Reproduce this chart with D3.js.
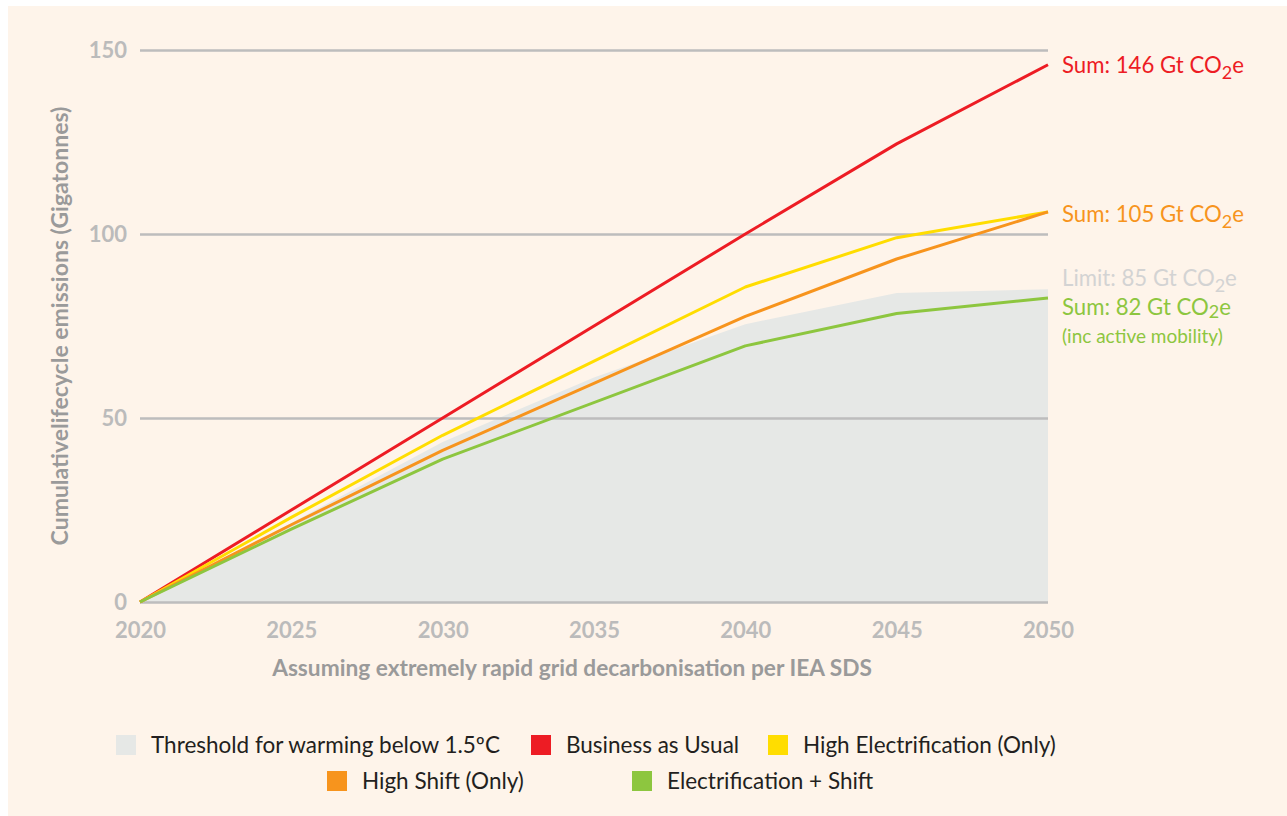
<!DOCTYPE html>
<html><head><meta charset="utf-8">
<script src="https://cdn.jsdelivr.net/npm/d3@7"></script>
<style>
html,body{margin:0;padding:0;background:#fff;}
svg{display:block;}
text{font-family:Lato,"Open Sans",sans-serif;}
</style></head>
<body>
<svg id="chart" width="1287" height="816"></svg>
<script>
// ---- data ----
const lineYears = [2020, 2025, 2030, 2040, 2045, 2050];
const thresholdYears = [2020, 2025, 2030, 2035, 2040, 2045, 2050];
const thresholdValues = [0, 21.5, 43.5, 61, 75.5, 84, 85];
const bauValues = [0, 25, 50, 100, 124.5, 146];
const highElecValues = [0, 23, 45.3, 85.6, 99, 106];
const highShiftValues = [0, 21, 41.2, 77.6, 93.2, 106];
const elecShiftValues = [0, 19.8, 38.8, 69.6, 78.4, 82.6];
const xTicks = [2020, 2025, 2030, 2035, 2040, 2045, 2050];
const yTicks = [0, 50, 100, 150];
const seriesNames = ["Business as Usual", "High Electrification (Only)", "High Shift (Only)", "Electrification + Shift"];
const seriesColors = ["#ed1c24", "#ffdd00", "#f7941d", "#8dc63f"];
const thresholdName = "Threshold for warming below 1.5ºC";
const thresholdColor = "#e6e8e6";

const svg = d3.select("#chart");
svg.append("rect").attr("x", 8).attr("y", 6).attr("width", 1279).attr("height", 810).attr("fill", "#fef4ea");

const x = d3.scaleLinear().domain([2020, 2050]).range([140, 1048]);
const y = d3.scaleLinear().domain([0, 150]).range([602, 50]);

// threshold area
const area = d3.area().x(d => x(d[0])).y0(y(0)).y1(d => y(d[1]));
svg.append("path").datum(thresholdYears.map((yr, i) => [yr, thresholdValues[i]]))
  .attr("d", area).attr("fill", thresholdColor);

// gridlines via axis
const yAxis = d3.axisLeft(y).tickValues(yTicks).tickSize(-(1048 - 140)).tickPadding(13);
const gy = svg.append("g").attr("transform", "translate(140,0)").call(yAxis);
gy.select(".domain").remove();
gy.selectAll(".tick line").attr("stroke", "#bdbdbd").attr("stroke-width", 2.5);
gy.selectAll(".tick text").attr("fill", "#bbbbbb").attr("font-size", 22).attr("font-weight", 700)
  .attr("font-family", "Lato, sans-serif");

const xAxis = d3.axisBottom(x).tickValues(xTicks).tickFormat(d3.format("d")).tickSize(0).tickPadding(20);
const gx = svg.append("g").attr("transform", "translate(0,602)").call(xAxis);
gx.select(".domain").remove();
gx.selectAll(".tick text").attr("fill", "#bbbbbb").attr("font-size", 22).attr("font-weight", 700)
  .attr("font-family", "Lato, sans-serif");

// lines
const allSeries = [bauValues, highElecValues, highShiftValues, elecShiftValues];
const line = d3.line().x(d => x(d[0])).y(d => y(d[1]));
allSeries.forEach((vals, i) => {
  svg.append("path").datum(lineYears.map((yr, j) => [yr, vals[j]]))
    .attr("d", line).attr("fill", "none").attr("stroke", seriesColors[i])
    .attr("stroke-width", 3).attr("stroke-linejoin", "round");
});

// axis titles
svg.append("text").attr("transform", "translate(68,326) rotate(-90)").attr("text-anchor", "middle")
  .attr("fill", "#9a9a9a").attr("font-size", 23).attr("font-weight", 700)
  .text("Cumulativelifecycle emissions (Gigatonnes)");
svg.append("text").attr("x", 572).attr("y", 676).attr("text-anchor", "middle")
  .attr("fill", "#9a9a9a").attr("font-size", 22.7).attr("font-weight", 700)
  .text("Assuming extremely rapid grid decarbonisation per IEA SDS");

// end labels
function co2Label(txt, xx, yy, color, sub) {
  const t = svg.append("text").attr("x", xx).attr("y", yy).attr("fill", color).attr("font-size", 22.2);
  t.append("tspan").text(txt + " CO");
  t.append("tspan").attr("dy", sub).attr("font-size", 18).text("2");
  t.append("tspan").attr("dy", -sub).text("e");
  return t;
}
co2Label("Sum: 146 Gt", 1062, 73, seriesColors[0], 6);
co2Label("Sum: 105 Gt", 1062, 222, seriesColors[2], 6);
co2Label("Limit: 85 Gt", 1062, 286, "#d3d3d3", 6);
co2Label("Sum: 82 Gt", 1062, 315, seriesColors[3], 3);
svg.append("text").attr("x", 1062).attr("y", 343).attr("fill", seriesColors[3]).attr("font-size", 19)
  .text("(inc active mobility)");

// legend
const legendItems = [
  {name: thresholdName, color: thresholdColor, sx: 116, cy: 745},
  {name: seriesNames[0], color: seriesColors[0], sx: 531, cy: 745},
  {name: seriesNames[1], color: seriesColors[1], sx: 768, cy: 745},
  {name: seriesNames[2], color: seriesColors[2], sx: 327, cy: 781},
  {name: seriesNames[3], color: seriesColors[3], sx: 632, cy: 781}
];
legendItems.forEach(it => {
  svg.append("rect").attr("x", it.sx).attr("y", it.cy - 10).attr("width", 20).attr("height", 20).attr("fill", it.color);
  svg.append("text").attr("x", it.sx + 35).attr("y", it.cy + 8).attr("fill", "#231f20").attr("font-size", 22.5)
    .text(it.name);
});
</script>
</body></html>
